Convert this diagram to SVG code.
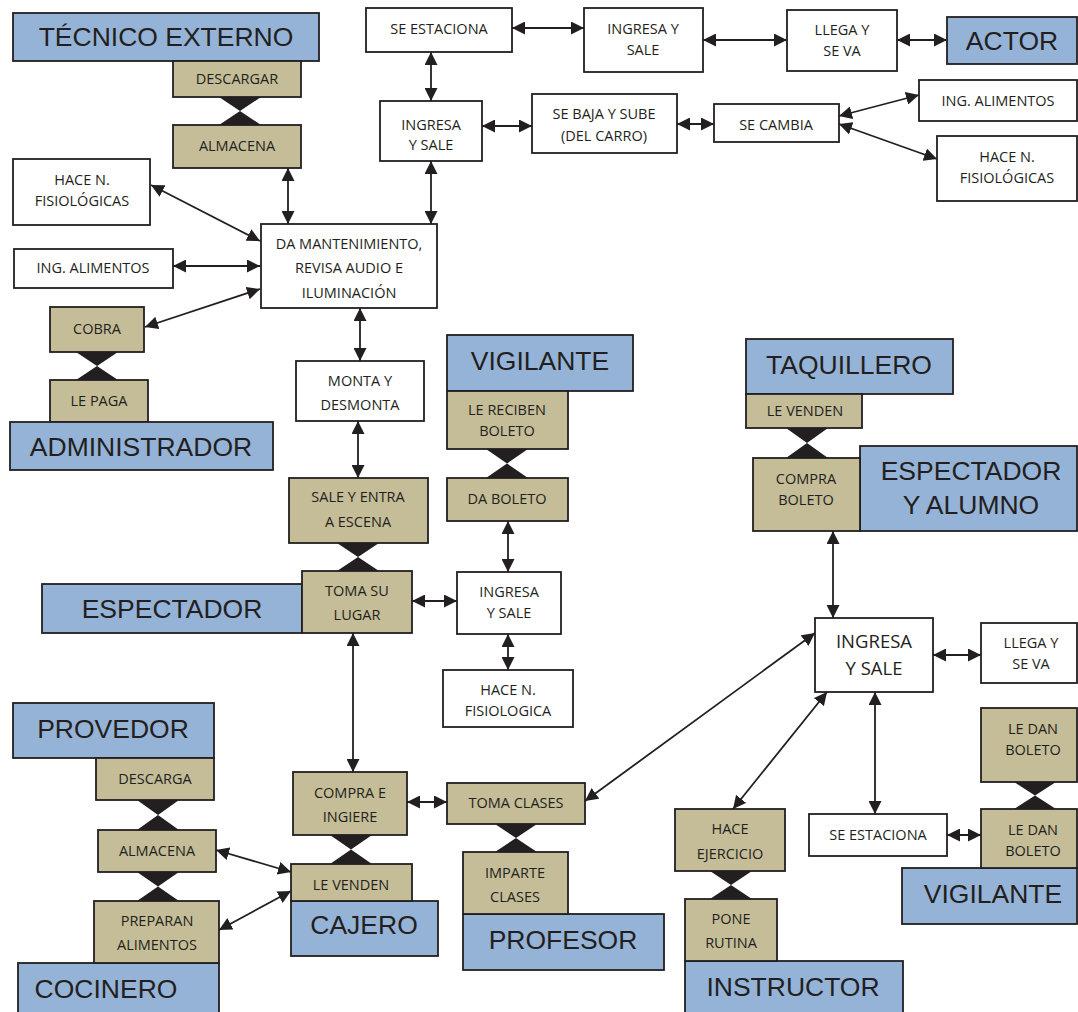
<svg xmlns="http://www.w3.org/2000/svg" width="1078" height="1012" viewBox="0 0 1078 1012">
<defs>
<style>
rect{stroke:#231f20;stroke-width:1.8}
.w{fill:#ffffff}
.b{fill:#95b3d7}
.t{fill:#c4bd97}
text{fill:#231f20;text-anchor:middle}
.s{font-family:"Open Sans","Liberation Sans",sans-serif;font-size:14.5px}
.m{font-family:"Open Sans","Liberation Sans",sans-serif;font-size:18.5px}
.L{font-family:"Liberation Sans",Arial,sans-serif;font-size:26.5px}
.bow{fill:#231f20}
.c line{stroke:#231f20;stroke-width:1.8;marker-start:url(#ah);marker-end:url(#ah)}
</style>
<marker id="ah" viewBox="0 0 13 13" refX="13" refY="6.5" markerWidth="13" markerHeight="13" markerUnits="userSpaceOnUse" orient="auto-start-reverse">
<path d="M0,0 L13,6.5 L0,13 Z" fill="#231f20"/>
</marker>
</defs>
<rect x="0" y="0" width="1078" height="1012" fill="#ffffff" style="stroke:none"/>

<g class="c" id="connectors">
<line x1="288" y1="168" x2="288" y2="224"/>
<line x1="151" y1="185" x2="260" y2="241"/>
<line x1="173" y1="266" x2="260" y2="266"/>
<line x1="145" y1="327" x2="260" y2="289"/>
<line x1="360" y1="308" x2="360" y2="361"/>
<line x1="358" y1="421" x2="358" y2="478"/>
<line x1="431" y1="161" x2="431" y2="224"/>
<line x1="431" y1="52" x2="431" y2="101"/>
<line x1="512" y1="28" x2="584" y2="28"/>
<line x1="703" y1="40" x2="787" y2="40"/>
<line x1="897" y1="40" x2="947" y2="40"/>
<line x1="482" y1="126" x2="532" y2="126"/>
<line x1="677" y1="124" x2="714" y2="124"/>
<line x1="839" y1="116" x2="919" y2="95"/>
<line x1="839" y1="124" x2="937" y2="159"/>
<line x1="508" y1="521" x2="508" y2="572"/>
<line x1="412" y1="601" x2="457" y2="601"/>
<line x1="508" y1="634" x2="508" y2="670"/>
<line x1="353" y1="633" x2="353" y2="772"/>
<line x1="407" y1="802" x2="447" y2="802"/>
<line x1="216" y1="850" x2="291" y2="872"/>
<line x1="219" y1="930" x2="291" y2="891"/>
<line x1="585" y1="801" x2="815" y2="633"/>
<line x1="733" y1="809" x2="827" y2="692"/>
<line x1="833" y1="531" x2="833" y2="618"/>
<line x1="933" y1="655" x2="981" y2="655"/>
<line x1="875" y1="692" x2="875" y2="814"/>
<line x1="947" y1="835" x2="981" y2="835"/>
</g>

<g id="bowties">
<path class="bow" d="M219,97 L261,97 L240,111 Z M219,125 L261,125 L240,111 Z"/>
<path class="bow" d="M76,352 L118,352 L97,366 Z M76,380 L118,380 L97,366 Z"/>
<path class="bow" d="M337,543 L379,543 L358,557 Z M337,571 L379,571 L358,557 Z"/>
<path class="bow" d="M486,449 L528,449 L507,463.5 Z M486,478 L528,478 L507,463.5 Z"/>
<path class="bow" d="M786,428 L828,428 L807,443 Z M786,458 L828,458 L807,443 Z"/>
<path class="bow" d="M1014,782 L1056,782 L1035,795.5 Z M1014,809 L1056,809 L1035,795.5 Z"/>
<path class="bow" d="M137,800 L179,800 L158,815 Z M137,830 L179,830 L158,815 Z"/>
<path class="bow" d="M137,872 L179,872 L158,886.5 Z M137,901 L179,901 L158,886.5 Z"/>
<path class="bow" d="M330,835 L372,835 L351,849.5 Z M330,864 L372,864 L351,849.5 Z"/>
<path class="bow" d="M495,824 L537,824 L516,838 Z M495,852 L537,852 L516,838 Z"/>
<path class="bow" d="M710,871 L752,871 L731,885 Z M710,899 L752,899 L731,885 Z"/>
</g>

<g id="tecnico-externo"><rect class="b" x="13" y="13" width="306" height="48"/><text class="L" x="166" y="46">TÉCNICO EXTERNO</text></g>
<g id="descargar"><rect class="t" x="173" y="61" width="128" height="36"/><text class="s" x="237" y="84">DESCARGAR</text></g>
<g id="almacena-1"><rect class="t" x="173" y="125" width="128" height="43"/><text class="s" x="237" y="151">ALMACENA</text></g>
<g id="hace-n-1"><rect class="w" x="13" y="159" width="137" height="66"/><text class="s" x="82" y="185">HACE N.</text><text class="s" x="82" y="206">FISIOLÓGICAS</text></g>
<g id="ing-alimentos-1"><rect class="w" x="14" y="249" width="159" height="39"/><text class="s" x="93" y="273">ING. ALIMENTOS</text></g>
<g id="da-mantenimiento"><rect class="w" x="261" y="224" width="176" height="84"/><text class="s" x="349" y="249">DA MANTENIMIENTO,</text><text class="s" x="349" y="273">REVISA AUDIO E</text><text class="s" x="349" y="298">ILUMINACIÓN</text></g>
<g id="cobra"><rect class="t" x="50" y="307" width="94" height="45"/><text class="s" x="97" y="334">COBRA</text></g>
<g id="le-paga"><rect class="t" x="50" y="380" width="98" height="42"/><text class="s" x="99" y="406">LE PAGA</text></g>
<g id="administrador"><rect class="b" x="10" y="422" width="263" height="48"/><text class="L" x="141" y="456">ADMINISTRADOR</text></g>
<g id="monta"><rect class="w" x="296" y="361" width="128" height="60"/><text class="s" x="360" y="386">MONTA Y</text><text class="s" x="360" y="410">DESMONTA</text></g>
<g id="sale-entra"><rect class="t" x="289" y="478" width="139" height="65"/><text class="s" x="358" y="502">SALE Y ENTRA</text><text class="s" x="358" y="527">A ESCENA</text></g>
<g id="espectador"><rect class="b" x="42" y="584" width="260" height="49"/><text class="L" x="172" y="618">ESPECTADOR</text></g>
<g id="toma-su-lugar"><rect class="t" x="302" y="571" width="110" height="62"/><text class="s" x="357" y="596">TOMA SU</text><text class="s" x="357" y="620">LUGAR</text></g>

<g id="se-estaciona-1"><rect class="w" x="366" y="8" width="146" height="44"/><text class="s" x="439" y="34">SE ESTACIONA</text></g>
<g id="ingresa-sale-1"><rect class="w" x="584" y="8" width="119" height="64"/><text class="s" x="643" y="34">INGRESA Y</text><text class="s" x="643" y="55">SALE</text></g>
<g id="llega-va-1"><rect class="w" x="787" y="10" width="110" height="61"/><text class="s" x="842" y="35">LLEGA Y</text><text class="s" x="842" y="56">SE VA</text></g>
<g id="actor"><rect class="b" x="947" y="17" width="130" height="47"/><text class="L" x="1012" y="50">ACTOR</text></g>
<g id="ingresa-sale-2"><rect class="w" x="380" y="101" width="102" height="60"/><text class="s" x="431" y="130">INGRESA</text><text class="s" x="431" y="150">Y SALE</text></g>
<g id="se-baja"><rect class="w" x="532" y="94" width="145" height="59"/><text class="s" x="604" y="119">SE BAJA Y SUBE</text><text class="s" x="604" y="141">(DEL CARRO)</text></g>
<g id="se-cambia"><rect class="w" x="714" y="104" width="125" height="38"/><text class="s" x="776" y="130">SE CAMBIA</text></g>
<g id="ing-alimentos-2"><rect class="w" x="919" y="80" width="158" height="41"/><text class="s" x="998" y="106">ING. ALIMENTOS</text></g>
<g id="hace-n-2"><rect class="w" x="937" y="136" width="140" height="65"/><text class="s" x="1007" y="162">HACE N.</text><text class="s" x="1007" y="183">FISIOLÓGICAS</text></g>

<g id="vigilante-1"><rect class="b" x="447" y="335" width="186" height="56"/><text class="L" x="540" y="370">VIGILANTE</text></g>
<g id="le-reciben"><rect class="t" x="447" y="391" width="121" height="58"/><text class="s" x="507" y="415">LE RECIBEN</text><text class="s" x="507" y="436">BOLETO</text></g>
<g id="da-boleto"><rect class="t" x="447" y="478" width="121" height="43"/><text class="s" x="507" y="504">DA BOLETO</text></g>
<g id="ingresa-sale-3"><rect class="w" x="457" y="572" width="104" height="62"/><text class="s" x="509" y="597">INGRESA</text><text class="s" x="509" y="618">Y SALE</text></g>
<g id="hace-n-3"><rect class="w" x="443" y="670" width="130" height="57"/><text class="s" x="508" y="695">HACE N.</text><text class="s" x="508" y="716">FISIOLOGICA</text></g>

<g id="taquillero"><rect class="b" x="746" y="339" width="207" height="55"/><text class="L" x="849" y="374">TAQUILLERO</text></g>
<g id="le-venden-1"><rect class="t" x="746" y="394" width="116" height="34"/><text class="s" x="805" y="416">LE VENDEN</text></g>
<g id="espectador-alumno"><rect class="b" x="860" y="446" width="217" height="85"/><text class="L" x="971" y="480">ESPECTADOR</text><text class="L" x="971" y="514">Y ALUMNO</text></g>
<g id="compra-boleto"><rect class="t" x="753" y="458" width="107" height="73"/><text class="s" x="806" y="484">COMPRA</text><text class="s" x="806" y="505">BOLETO</text></g>

<g id="ingresa-sale-4"><rect class="w" x="815" y="618" width="118" height="74"/><text class="m" x="874" y="648">INGRESA</text><text class="m" x="874" y="675">Y SALE</text></g>
<g id="llega-va-2"><rect class="w" x="981" y="623" width="96" height="60"/><text class="s" x="1031" y="648">LLEGA Y</text><text class="s" x="1031" y="669">SE VA</text></g>
<g id="le-dan-boleto-1"><rect class="t" x="981" y="708" width="96" height="74"/><text class="s" x="1033" y="734">LE DAN</text><text class="s" x="1033" y="755">BOLETO</text></g>
<g id="vigilante-2"><rect class="b" x="902" y="868" width="175" height="56"/><text class="L" x="993" y="903">VIGILANTE</text></g>
<g id="le-dan-boleto-2"><rect class="t" x="981" y="809" width="96" height="59"/><text class="s" x="1033" y="835">LE DAN</text><text class="s" x="1033" y="856">BOLETO</text></g>
<g id="se-estaciona-2"><rect class="w" x="809" y="814" width="138" height="42"/><text class="s" x="878" y="840">SE ESTACIONA</text></g>

<g id="provedor"><rect class="b" x="13" y="703" width="201" height="55"/><text class="L" x="113" y="738">PROVEDOR</text></g>
<g id="descarga"><rect class="t" x="96" y="758" width="118" height="42"/><text class="s" x="155" y="784">DESCARGA</text></g>
<g id="almacena-2"><rect class="t" x="98" y="830" width="118" height="42"/><text class="s" x="157" y="856">ALMACENA</text></g>
<g id="cocinero"><rect class="b" x="18" y="963" width="201" height="54"/><text class="L" x="106" y="998">COCINERO</text></g>
<g id="preparan"><rect class="t" x="94" y="901" width="125" height="62"/><text class="s" x="157" y="926">PREPARAN</text><text class="s" x="157" y="950">ALIMENTOS</text></g>

<g id="compra-ingiere"><rect class="t" x="293" y="772" width="114" height="63"/><text class="s" x="350" y="798">COMPRA E</text><text class="s" x="350" y="822">INGIERE</text></g>
<g id="cajero"><rect class="b" x="291" y="901" width="147" height="55"/><text class="L" x="364" y="934">CAJERO</text></g>
<g id="le-venden-2"><rect class="t" x="291" y="864" width="121" height="37"/><text class="s" x="351" y="890">LE VENDEN</text></g>

<g id="toma-clases"><rect class="t" x="447" y="783" width="138" height="41"/><text class="s" x="516" y="808">TOMA CLASES</text></g>
<g id="profesor"><rect class="b" x="463" y="914" width="201" height="56"/><text class="L" x="563" y="949">PROFESOR</text></g>
<g id="imparte-clases"><rect class="t" x="463" y="852" width="105" height="62"/><text class="s" x="515" y="878">IMPARTE</text><text class="s" x="515" y="902">CLASES</text></g>

<g id="hace-ejercicio"><rect class="t" x="675" y="809" width="110" height="62"/><text class="s" x="730" y="834">HACE</text><text class="s" x="730" y="859">EJERCICIO</text></g>
<g id="instructor"><rect class="b" x="685" y="961" width="218" height="56"/><text class="L" x="793" y="996">INSTRUCTOR</text></g>
<g id="pone-rutina"><rect class="t" x="685" y="899" width="92" height="62"/><text class="s" x="731" y="924">PONE</text><text class="s" x="731" y="948">RUTINA</text></g>
</svg>
